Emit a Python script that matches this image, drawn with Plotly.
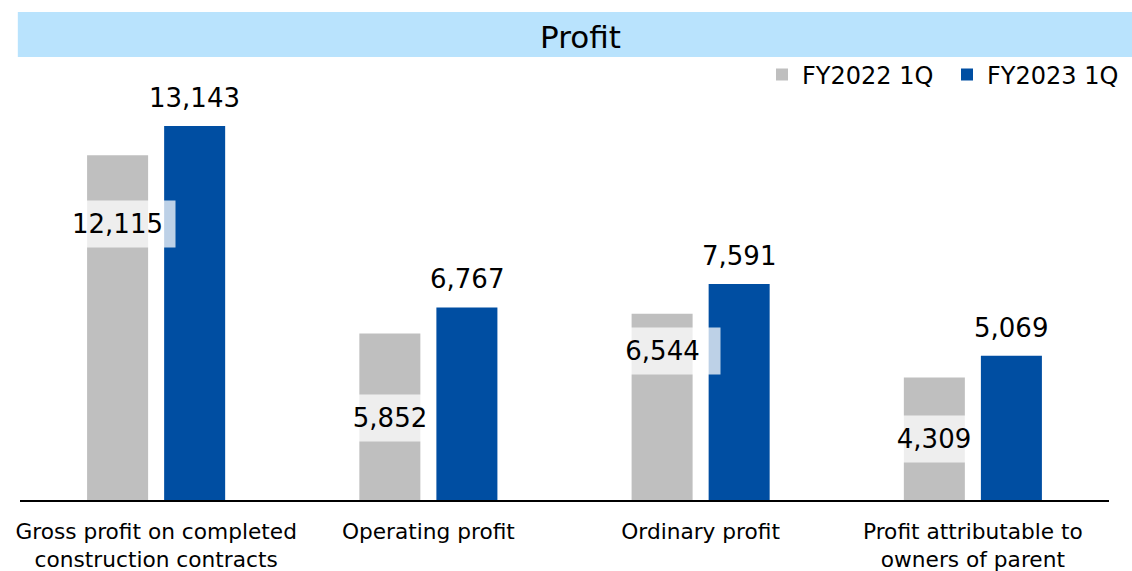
import plotly.graph_objects as go

categories = ["Gross profit on completed<br>construction contracts", "Operating profit",
              "Ordinary profit", "Profit attributable to<br>owners of parent"]
fy2022 = [12115, 5852, 6544, 4309]
fy2023 = [13143, 6767, 7591, 5069]
series_names = ["FY2022 1Q", "FY2023 1Q"]

# styling / placement (not data)
GRAY = "#BFBFBF"
BLUE = "#004EA2"
FONT = "DejaVu Sans"
label_frac = [0.80, 0.49, 0.80, 0.50]     # vertical position of FY2022 labels inside bar
label_box_w = [115, 90, 115, 90]
xpos = list(range(len(categories)))
off = 0.1415

fig = go.Figure()
fig.add_trace(go.Bar(x=xpos, y=fy2022, name=series_names[0], marker_color=GRAY,
                     marker_line_width=0, hoverinfo="skip"))
fig.add_trace(go.Bar(x=xpos, y=fy2023, name=series_names[1], marker_color=BLUE,
                     marker_line_width=0, hoverinfo="skip"))

annotations = []
for i, v in enumerate(fy2022):
    annotations.append(dict(x=i - off, y=v * label_frac[i], xref="x", yref="y",
                            text=f"{v:,}", showarrow=False,
                            font=dict(family=FONT, size=26, color="#000000"),
                            bgcolor="rgba(255,255,255,0.74)", width=label_box_w[i],
                            height=46, align="center", valign="middle", borderpad=0))
for i, v in enumerate(fy2023):
    annotations.append(dict(x=i + off, y=v, xref="x", yref="y", text=f"{v:,}",
                            showarrow=False, yanchor="middle", yshift=28,
                            font=dict(family=FONT, size=26, color="#000000")))

# title text
annotations.append(dict(x=0.515, y=1.052, xref="paper", yref="paper", text="Profit",
                        showarrow=False, yanchor="middle", xanchor="center",
                        font=dict(family=FONT, size=31, color="#000000")))

fig.update_layout(
    width=1132, height=571,
    margin=dict(l=20, r=23, t=60, b=71, autoexpand=False),
    paper_bgcolor="white", plot_bgcolor="white",
    barmode="group", bargap=0.434, bargroupgap=0.208,
    font=dict(family=FONT, color="#000000"),
    showlegend=True,
    legend=dict(orientation="h", xref="container", yref="container",
                x=1.0, xanchor="right", y=1 - 75 / 571, yanchor="middle",
                font=dict(family=FONT, size=24, color="#000000"),
                itemwidth=30, entrywidth=140, entrywidthmode="pixels",
                bgcolor="rgba(0,0,0,0)", traceorder="normal"),
    xaxis=dict(range=[-0.5, 3.5], tickvals=xpos, ticktext=categories,
               tickfont=dict(family=FONT, size=21.7, color="#000000"),
               ticklabelstandoff=11, automargin=False,
               showgrid=False, zeroline=False, showline=True, linecolor="#000000",
               linewidth=1.5, ticks="", fixedrange=True),
    yaxis=dict(range=[0, 15462], visible=False, showgrid=False, zeroline=False,
               automargin=False, fixedrange=True),
    annotations=annotations,
    shapes=[dict(type="rect", xref="paper", yref="paper", x0=-0.002, x1=1.03,
                 y0=1.007, y1=1.109, fillcolor="#B9E3FD", line_width=0, layer="below")],
)

fig.write_html("out.html", config={"displayModeBar": False},
               post_script="document.body.style.margin='0px';document.body.style.overflow='hidden';")
